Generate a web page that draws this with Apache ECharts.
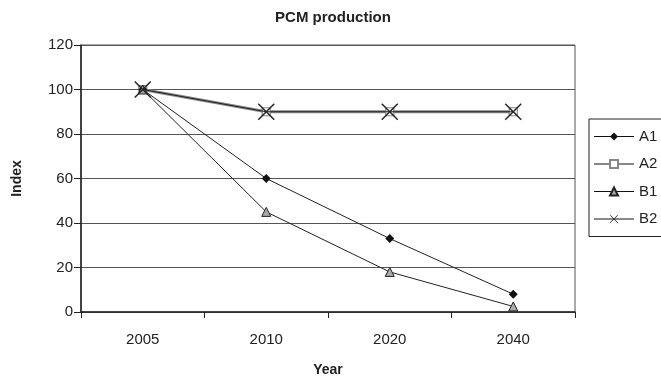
<!DOCTYPE html>
<html>
<head>
<meta charset="utf-8">
<script src="https://cdn.jsdelivr.net/npm/echarts@6/dist/echarts.min.js"></script>
<style>
html,body{margin:0;padding:0;background:#fff;}
#chart{width:661px;height:382px;}
</style>
</head>
<body>
<div id="chart"></div>
<script>
var categories = ['2005', '2010', '2020', '2040'];
var seriesNames = ['A1', 'A2', 'B1', 'B2'];
var A1 = [100, 60, 33, 8];
var A2 = [100, 90, 90, 90];
var B1 = [100, 45, 18, 2.5];
var B2 = [100, 90, 90, 90];
var yTicks = [0, 20, 40, 60, 80, 100, 120];

var FONT = '"Liberation Sans", Arial, sans-serif';
var xPath = 'path://M0,1.2 L1.2,0 L10,8.8 L18.8,0 L20,1.2 L11.2,10 L20,18.8 L18.8,20 L10,11.2 L1.2,20 L0,18.8 L8.8,10 Z';

var chart = echarts.init(document.getElementById('chart'), null, {renderer: 'canvas'});
chart.setOption({
  animation: false,
  backgroundColor: '#fff',
  title: {
    text: 'PCM production',
    left: 328, textAlign: 'center', top: 5,
    textStyle: {fontFamily: FONT, fontSize: 15, fontWeight: 'bold', color: '#222'}
  },
  grid: {
    left: 81, right: 86, top: 45, bottom: 70,
    show: true, borderColor: '#555', borderWidth: 1
  },
  legend: {
    orient: 'vertical',
    left: 589, top: 119,
    data: [
      {name: seriesNames[0], lineStyle: {width: 1, color: '#111'}},
      {name: seriesNames[1], lineStyle: {width: 2, color: '#888'}},
      {name: seriesNames[2], lineStyle: {width: 1, color: '#111'}},
      {name: seriesNames[3], lineStyle: {width: 1, color: '#111'}}
    ],
    itemWidth: 40, itemHeight: 10,
    itemGap: 12.5,
    padding: [10, 20, 10, 4],
    borderColor: '#222', borderWidth: 1,
    textStyle: {fontFamily: FONT, fontSize: 15, color: '#222'}
  },
  xAxis: {
    type: 'category',
    data: categories,
    boundaryGap: true,
    name: 'Year', nameLocation: 'middle', nameGap: 51,
    nameTextStyle: {fontFamily: FONT, fontSize: 14, fontWeight: 'bold', color: '#222'},
    axisLine: {lineStyle: {color: '#222', width: 1.5}},
    axisTick: {show: true, length: 6, interval: 0, lineStyle: {color: '#222'}},
    axisLabel: {fontFamily: FONT, fontSize: 15, color: '#222', margin: 20, interval: 0}
  },
  yAxis: {
    type: 'value',
    min: yTicks[0], max: yTicks[yTicks.length - 1], interval: yTicks[1] - yTicks[0],
    name: 'Index', nameLocation: 'middle', nameGap: 57, nameRotate: 90,
    nameTextStyle: {fontFamily: FONT, fontSize: 14, fontWeight: 'bold', color: '#222'},
    axisLine: {show: true, lineStyle: {color: '#222', width: 1.5}},
    axisTick: {show: true, length: 7, lineStyle: {color: '#222'}},
    axisLabel: {fontFamily: FONT, fontSize: 15, color: '#222', margin: 8},
    splitLine: {show: true, lineStyle: {color: '#555', width: 1}}
  },
  series: [
    {
      name: 'A1', type: 'line', data: A1, z: 3,
      symbol: 'diamond', symbolSize: 9,
      lineStyle: {color: '#222', width: 1},
      itemStyle: {color: '#111', borderColor: '#111', borderWidth: 0}
    },
    {
      name: 'A2', type: 'line', data: A2, z: 2,
      symbol: 'rect', symbolSize: 8,
      lineStyle: {color: '#888', width: 3},
      itemStyle: {color: '#fff', borderColor: '#888', borderWidth: 1.2}
    },
    {
      name: 'B1', type: 'line', data: B1, z: 3,
      symbol: 'triangle', symbolSize: 9,
      lineStyle: {color: '#222', width: 1},
      itemStyle: {color: '#aaa', borderColor: '#222', borderWidth: 1}
    },
    {
      name: 'B2', type: 'line', data: B2, z: 4,
      symbol: xPath, symbolSize: 17,
      lineStyle: {color: '#222', width: 1.2},
      itemStyle: {color: '#222', borderColor: '#222', borderWidth: 0}
    }
  ]
});
</script>
</body>
</html>
